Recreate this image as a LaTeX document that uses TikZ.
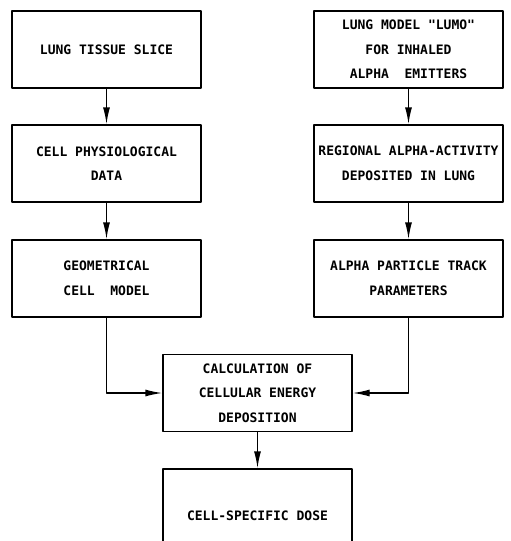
\documentclass[tikz,border=0pt]{standalone}
\usepackage{fontspec}
\setmonofont{DejaVu Sans Mono}
\usetikzlibrary{arrows.meta}
\tikzset{box/.style={draw, line width=1.4pt, minimum width=189pt, minimum height=77pt,
  inner sep=0pt, align=center, font=\ttfamily\bfseries\fontsize{13}{24.5}\selectfont}}
\begin{document}
\begin{tikzpicture}[x=1pt, y=-1pt, >={Latex[length=17pt,width=7pt]}, line join=round]
	\useasboundingbox (0,0) rectangle (511,541);
	% left column
	\node[box] (slice) at (106.5,49.5) {LUNG TISSUE SLICE};
	\node[box] (physio) at (106.5,163.5) {CELL PHYSIOLOGICAL\\DATA};
	\node[box] (geom) at (106.5,278.5) {GEOMETRICAL\\CELL~~MODEL};
	% right column
	\node[box] (lumo) at (408.5,49.5) {LUNG MODEL "LUMO"\\FOR INHALED\\ALPHA~~EMITTERS};
	\node[box] (regional) at (408.5,163.5) {REGIONAL ALPHA-ACTIVITY\\DEPOSITED IN LUNG};
	\node[box] (track) at (408.5,278.5) {ALPHA PARTICLE TRACK\\PARAMETERS};
	% centre
	\node[box] (calc) at (257.5,393) {CALCULATION OF\\CELLULAR ENERGY\\DEPOSITION};
	\node[box, minimum height=94pt] (dose) at (257.5,516) {CELL-SPECIFIC DOSE};
	\draw[->, line width=1.4pt] (slice) -- (physio);
	\draw[->, line width=1.4pt] (physio) -- (geom);
	\draw[->, line width=1.4pt] (lumo) -- (regional);
	\draw[->, line width=1.4pt] (regional) -- (track);
	\draw[->, line width=1.4pt] (geom.south) |- (calc.west);
	\draw[->, line width=1.4pt] (track.south) |- (calc.east);
	\draw[->, line width=1.4pt] (calc) -- (dose);
\end{tikzpicture}
\end{document}
